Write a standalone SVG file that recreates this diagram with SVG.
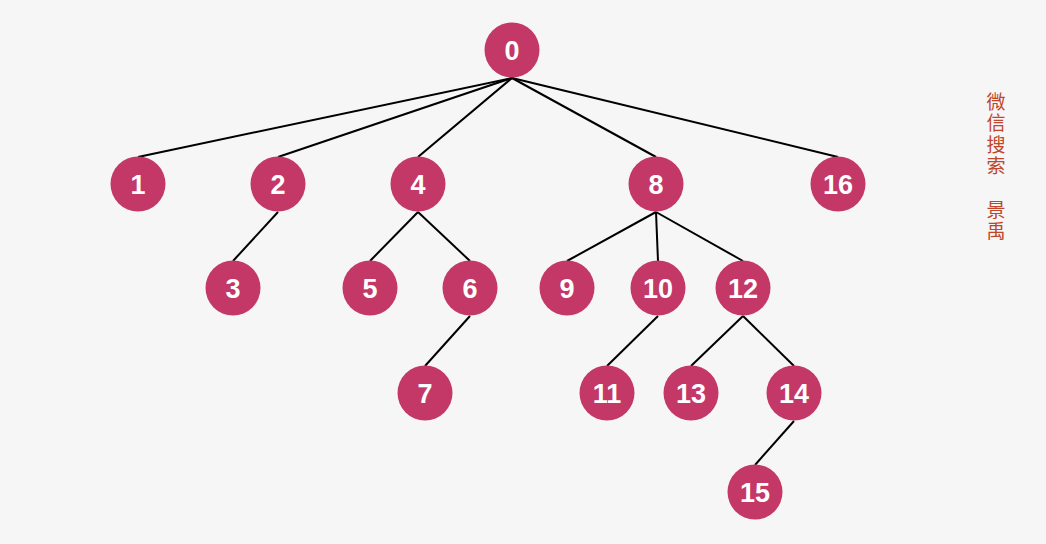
<svg xmlns="http://www.w3.org/2000/svg" width="1046" height="544" viewBox="0 0 1046 544">
<style>
.n circle{fill:#c33867}
.n text{fill:#fff;font-family:"Liberation Sans",Arial,sans-serif;font-weight:bold;font-size:27px;text-anchor:middle;dominant-baseline:central}
#edges line{stroke:#000;stroke-width:2}
.wm{fill:#c0462a;font-family:"Noto Sans CJK SC",sans-serif;font-size:19px;writing-mode:vertical-rl;letter-spacing:2.5px}
</style>
<rect width="1046" height="544" fill="#f6f6f6"/>
<g id="edges">
<line x1="512" y1="78" x2="138" y2="157"/>
<line x1="512" y1="78" x2="278" y2="157"/>
<line x1="512" y1="78" x2="418" y2="157"/>
<line x1="512" y1="78" x2="656" y2="157"/>
<line x1="512" y1="78" x2="838" y2="157"/>
<line x1="278" y1="212" x2="233" y2="261"/>
<line x1="418" y1="212" x2="370" y2="261"/>
<line x1="418" y1="212" x2="470" y2="261"/>
<line x1="470" y1="316" x2="425" y2="366"/>
<line x1="656" y1="212" x2="567" y2="261"/>
<line x1="656" y1="212" x2="658" y2="261"/>
<line x1="656" y1="212" x2="743" y2="261"/>
<line x1="658" y1="316" x2="607" y2="366"/>
<line x1="743" y1="316" x2="691" y2="366"/>
<line x1="743" y1="316" x2="794" y2="366"/>
<line x1="794" y1="421" x2="755" y2="465"/>
</g>
<g id="n0" class="n"><circle cx="512" cy="50" r="27.5"/><text x="512" y="51">0</text></g>
<g id="n1" class="n"><circle cx="138" cy="184" r="27.5"/><text x="138" y="185">1</text></g>
<g id="n2" class="n"><circle cx="278" cy="184" r="27.5"/><text x="278" y="185">2</text></g>
<g id="n4" class="n"><circle cx="418" cy="184" r="27.5"/><text x="418" y="185">4</text></g>
<g id="n8" class="n"><circle cx="656" cy="184" r="27.5"/><text x="656" y="185">8</text></g>
<g id="n16" class="n"><circle cx="838" cy="184" r="27.5"/><text x="838" y="185">16</text></g>
<g id="n3" class="n"><circle cx="233" cy="288" r="27.5"/><text x="233" y="289">3</text></g>
<g id="n5" class="n"><circle cx="370" cy="288" r="27.5"/><text x="370" y="289">5</text></g>
<g id="n6" class="n"><circle cx="470" cy="288" r="27.5"/><text x="470" y="289">6</text></g>
<g id="n9" class="n"><circle cx="567" cy="288" r="27.5"/><text x="567" y="289">9</text></g>
<g id="n10" class="n"><circle cx="658" cy="288" r="27.5"/><text x="658" y="289">10</text></g>
<g id="n12" class="n"><circle cx="743" cy="288" r="27.5"/><text x="743" y="289">12</text></g>
<g id="n7" class="n"><circle cx="425" cy="393" r="27.5"/><text x="425" y="394">7</text></g>
<g id="n11" class="n"><circle cx="607" cy="393" r="27.5"/><text x="607" y="394">11</text></g>
<g id="n13" class="n"><circle cx="691" cy="393" r="27.5"/><text x="691" y="394">13</text></g>
<g id="n14" class="n"><circle cx="794" cy="393" r="27.5"/><text x="794" y="394">14</text></g>
<g id="n15" class="n"><circle cx="755" cy="492" r="27.5"/><text x="755" y="493">15</text></g>
<g id="watermark" class="wm">
<text x="996" y="92">微信搜索</text>
<text x="996" y="200">景禹</text>
</g>
</svg>
